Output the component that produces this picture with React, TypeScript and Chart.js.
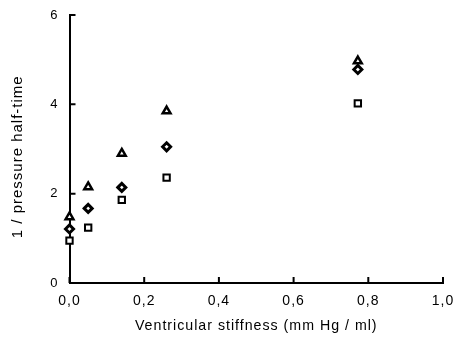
import React, { useEffect, useRef } from "react";
import { Chart, registerables } from "chart.js";
Chart.register(...registerables);

const stiffness = [0.0, 0.05, 0.14, 0.26, 0.772];
const seriesTriangle = [1.48, 2.15, 2.9, 3.85, 4.97];
const seriesDiamond = [1.21, 1.67, 2.14, 3.05, 4.78];
const seriesSquare = [0.95, 1.24, 1.86, 2.36, 4.02];
const xTicks = [0, 0.2, 0.4, 0.6, 0.8, 1.0];
const yTicks = [0, 2, 4, 6];

const FONT = "'Liberation Sans', Arial, sans-serif";

const spacing = {
  id: "spacing",
  beforeUpdate(chart: any) { chart.ctx.letterSpacing = "1px"; },
  beforeDraw(chart: any) { chart.ctx.letterSpacing = "1px"; },
};

const inwardTicks = {
  id: "inwardTicks",
  afterDraw(chart: any) {
    const ctx = chart.ctx;
    const xs = chart.scales.x;
    const ys = chart.scales.y;
    ctx.save();
    ctx.strokeStyle = "#000";
    ctx.lineWidth = 2;
    ctx.beginPath();
    xTicks.forEach((v) => {
      const px = xs.getPixelForValue(v);
      ctx.moveTo(px, ys.bottom);
      ctx.lineTo(px, ys.bottom - 6);
    });
    yTicks.forEach((v) => {
      const py = ys.getPixelForValue(v);
      ctx.moveTo(xs.left, py);
      ctx.lineTo(xs.left + 6, py);
    });
    ctx.stroke();
    ctx.restore();
  },
};

export default function App() {
  const ref = useRef<HTMLCanvasElement>(null);
  useEffect(() => {
    document.body.style.margin = "0";
    const mk = (data: number[], style: string, r: number, bw: number) => ({
      data: stiffness.map((x, i) => ({ x, y: data[i] })),
      pointStyle: style,
      pointRadius: r,
      pointBorderWidth: bw,
      pointBackgroundColor: "#fff",
      pointBorderColor: "#000",
      showLine: false,
      clip: false,
    });
    const chart = new Chart(ref.current!, {
      type: "scatter",
      data: {
        datasets: [
          mk(seriesTriangle, "triangle", 4.5, 2.5),
          mk(seriesDiamond, "rectRot", 4, 3),
          mk(seriesSquare, "rect", 4.5, 2),
        ],
      },
      options: {
        animation: false,
        responsive: false,
        layout: { padding: { left: 0, top: 15, right: 14, bottom: 0 } },
        plugins: { legend: { display: false }, tooltip: { enabled: false } },
        scales: {
          x: {
            type: "linear",
            min: 0,
            max: 1,
            afterFit: (s: any) => { s.height = 54; s.paddingLeft = 0; s.paddingRight = 0; },
            afterBuildTicks: (s: any) => { s.ticks = xTicks.map((v) => ({ value: v })); },
            grid: { display: false, drawTicks: false },
            border: { display: true, color: "#000", width: 2 },
            ticks: {
              color: "#000",
              font: { family: FONT, size: 14 },
              padding: 10,
              maxRotation: 0,
              callback: (v: any) => Number(v).toFixed(1).replace(".", ","),
            },
            title: {
              display: true,
              text: "Ventricular stiffness (mm Hg / ml)",
              color: "#000",
              font: { family: FONT, size: 14.2 },
              padding: { top: 6, bottom: 2 },
            },
          },
          y: {
            type: "linear",
            min: 0,
            max: 6,
            afterFit: (s: any) => { s.width = 69.5; s.paddingTop = 0; s.paddingBottom = 0; },
            afterBuildTicks: (s: any) => { s.ticks = yTicks.map((v) => ({ value: v })); },
            grid: { display: false, drawTicks: false },
            border: { display: true, color: "#000", width: 2 },
            ticks: {
              color: "#000",
              font: { family: FONT, size: 13 },
              padding: 11,
            },
            title: {
              display: true,
              text: "1 / pressure half-time   ",
              color: "#000",
              font: { family: FONT, size: 15 },
              padding: { top: 9, bottom: 4 },
            },
          },
        },
      },
      plugins: [spacing, inwardTicks],
    });
    return () => chart.destroy();
  }, []);
  return <canvas ref={ref} width={457} height={337} style={{ display: "block" }} />;
}
